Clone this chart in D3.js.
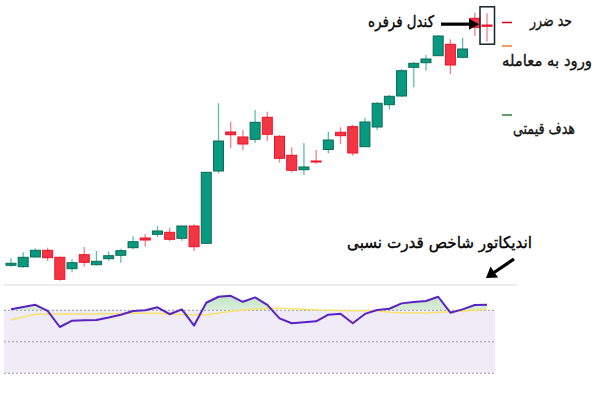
<!DOCTYPE html>
<html><head><meta charset="utf-8">
<script src="https://cdn.jsdelivr.net/npm/d3@7"></script>
<style>html,body{margin:0;padding:0;background:#fff;}svg{display:block;}</style>
</head><body>
<svg id="c" width="600" height="399"></svg>
<script>
// ---- data (price units are arbitrary) ----
const candles = d3.range(1, 41).map(String);
const open  = [34.7,33.3,43,49.7,42.7,31.3,45.3,35.3,41.3,44.7,52.3,62,65.7,67.7,61.7,74,56.7,129,168,163,160.7,182.7,163.7,144.7,130.3,139,150.5,167.7,173.3,153.3,173,195.3,204,232.7,237.3,244.3,255.7,242.7,281.7,275];
const high  = [41.7,47.7,51.7,52.3,43.5,40.7,53,49,48.5,51.3,63.7,66,74,72.3,74,75.7,128,196.7,178.3,170,190,188.3,165,152.7,157,150,168.3,172.7,175.3,182.3,198,205,231,238,245,265,260.7,262.3,287.3,286.7];
const low   = [33.3,32.3,42.3,39,19.3,27.7,33.3,34.5,39.3,37.3,50.7,53.3,63,59,59.3,49,56,126.7,151.7,150,157.3,159,137.3,127.7,125,136,146.7,155.7,144.3,153.3,170,190.7,203,212.7,229.3,244,226,241.7,264,258.3];
const close = [36.7,42.7,49.7,42.3,20.7,37.3,37.7,38.7,44.3,49.3,58.3,60,69,60.7,74,53.3,127.7,159,165.3,156,177.7,165.7,141.7,129.7,133,138,160,164.3,147,178,196.7,203.7,229.3,236.7,241,264,235,251,272.7,273.7];
const rsi       = [70.6,72.1,73.5,69.6,59.4,63.4,63.7,63.9,65.4,67.2,69.6,70.0,71.9,67.5,70.6,60.3,74.8,78.6,79.2,75.4,78.2,73.4,64.9,61.8,62.4,63.0,67.2,67.8,61.8,67.7,70.2,71.0,74.4,75.3,75.9,78.6,68.5,70.6,73.4,73.5];
const rsiSignal = [63.9,65.8,67.5,67.7,67.7,67.7,67.7,67.7,67.8,68.0,68.1,68.1,68.0,67.7,67.3,67.2,67.0,68.3,69.4,70.2,70.8,71.3,71.3,71.0,70.6,70.2,70.0,69.9,69.7,69.7,69.7,68.8,68.5,68.3,68.3,68.7,69.1,69.6,70.1,70.6];
const rsiLevels = [70, 50, 30];
const legendLabels = ["حد ضرر", "ورود به معامله", "هدف قیمتی"];
const legendColors = ["#d0021b", "#f07b2a", "#2e7d32"];
const calloutLabel = "کندل فرفره";
const rsiLabel = "اندیکاتور شاخص قدرت نسبی";

const svg = d3.select("#c");
const FONT = "'DejaVu Sans', sans-serif";

const x = d3.scalePoint().domain(d3.range(candles.length)).range([11, 487]);
const y = d3.scaleLinear().domain([0, 300]).range([300, 0]);
const yR = d3.scaleLinear().domain([30, 70]).range([373.3, 310.3]);
const bw = 10;

function label(sel, txt, x0, base, w, size) {
  return sel.append("text").attr("x", x0).attr("y", base)
    .attr("font-family", FONT).attr("font-size", size)
    .attr("textLength", w).attr("lengthAdjust", "spacingAndGlyphs")
    .attr("fill", "#000").attr("stroke", "#000").attr("stroke-width", 0.35)
    .text(txt);
}

// ---- RSI panel ----
svg.append("line").attr("x1", 4).attr("x2", 517).attr("y1", 285).attr("y2", 285)
  .attr("stroke", "#e6e6ef").attr("stroke-width", 1.5);
svg.append("rect").attr("x", 4).attr("width", 491)
  .attr("y", yR(70)).attr("height", yR(30) - yR(70)).attr("fill", "#efebf7");
svg.selectAll(".lvl").data(rsiLevels).join("line")
  .attr("x1", 4).attr("x2", 495).attr("y1", d => yR(d)).attr("y2", d => yR(d))
  .attr("stroke", "#9a9aa6").attr("stroke-width", 1).attr("stroke-dasharray", "2,2");

const defs = svg.append("defs");
const grad = defs.append("linearGradient").attr("id", "g").attr("x1", 0).attr("x2", 0).attr("y1", 0).attr("y2", 1);
grad.append("stop").attr("offset", "0%").attr("stop-color", "#4caf50").attr("stop-opacity", 0.35);
grad.append("stop").attr("offset", "100%").attr("stop-color", "#4caf50").attr("stop-opacity", 0.04);
defs.append("clipPath").attr("id", "above").append("rect")
  .attr("x", 0).attr("y", 280).attr("width", 600).attr("height", yR(70) - 280);

svg.append("path").datum(rsi)
  .attr("clip-path", "url(#above)")
  .attr("fill", "url(#g)")
  .attr("d", d3.area().x((d, i) => x(i)).y0(yR(70)).y1(d => yR(d)));

svg.append("path").datum(rsiSignal)
  .attr("fill", "none").attr("stroke", "#f7e36a").attr("stroke-width", 1.5)
  .attr("d", d3.line().x((d, i) => x(i)).y(d => yR(d)));
svg.append("path").datum(rsi)
  .attr("fill", "none").attr("stroke", "#5a22c4").attr("stroke-width", 2)
  .attr("stroke-linejoin", "round")
  .attr("d", d3.line().x((d, i) => x(i)).y(d => yR(d)));

// ---- candles ----
const data = candles.map((c, i) => ({i, o: open[i], h: high[i], l: low[i], c: close[i], up: close[i] >= open[i]}));
const g = svg.append("g");
g.selectAll(".wick").data(data).join("line")
  .attr("x1", d => x(d.i)).attr("x2", d => x(d.i))
  .attr("y1", d => y(d.h)).attr("y2", d => y(d.l))
  .attr("stroke", d => d.up ? "#5cbfae" : "#f37f8c").attr("stroke-width", 1.3);
g.selectAll(".body").data(data).join("rect")
  .attr("x", d => x(d.i) - bw / 2).attr("width", bw)
  .attr("y", d => y(Math.max(d.o, d.c)))
  .attr("height", d => Math.max(1, Math.abs(y(d.o) - y(d.c))))
  .attr("fill", d => d.up ? "#089981" : "#f23645")
  .attr("stroke", d => d.up ? "#0a6b55" : "#ee1027").attr("stroke-width", 1);

// ---- callout on last candle ----
const last = data[data.length - 1];
const bx0 = x(last.i) - 7, bx1 = x(last.i) + 7.5;
svg.append("rect").attr("x", bx0).attr("y", y(last.h) - 6.5)
  .attr("width", bx1 - bx0).attr("height", y(last.l) - y(last.h) + 9)
  .attr("fill", "none").attr("stroke", "#14232b").attr("stroke-width", 1.5);
const ay = y((last.o + last.c) / 2) - 1.5;
svg.append("line").attr("x1", 441).attr("x2", bx0 - 9).attr("y1", ay).attr("y2", ay)
  .attr("stroke", "#000").attr("stroke-width", 3.2);
svg.append("path").attr("d", `M${bx0 - 1},${ay} L${bx0 - 11},${ay - 5.5} L${bx0 - 11},${ay + 5.5} Z`).attr("fill", "#000");
label(svg, calloutLabel, 368, 27, 66, 16);

// ---- legend on the right ----
const legY = [22.5, 46, 115];
const legTextY = [26, 66, 134];
const legTextX = [530, 502, 513];
const legTextW = [42, 90, 62];
legendLabels.forEach((lab, i) => {
  svg.append("line").attr("x1", 502).attr("x2", 512).attr("y1", legY[i]).attr("y2", legY[i])
    .attr("stroke", legendColors[i]).attr("stroke-width", 1.5);
  label(svg, lab, legTextX[i], legTextY[i], legTextW[i], 16).attr("fill", "#111").attr("stroke", "#111");
});

// ---- RSI label & arrow ----
label(svg, rsiLabel, 347, 248, 185, 16);
svg.append("line").attr("x1", 514).attr("y1", 259).attr("x2", 494).attr("y2", 272.5)
  .attr("stroke", "#000").attr("stroke-width", 3.2);
svg.append("path").attr("d", "M486,278 L490.5,266.5 L498,277.5 Z").attr("fill", "#000");
</script>
</body></html>
